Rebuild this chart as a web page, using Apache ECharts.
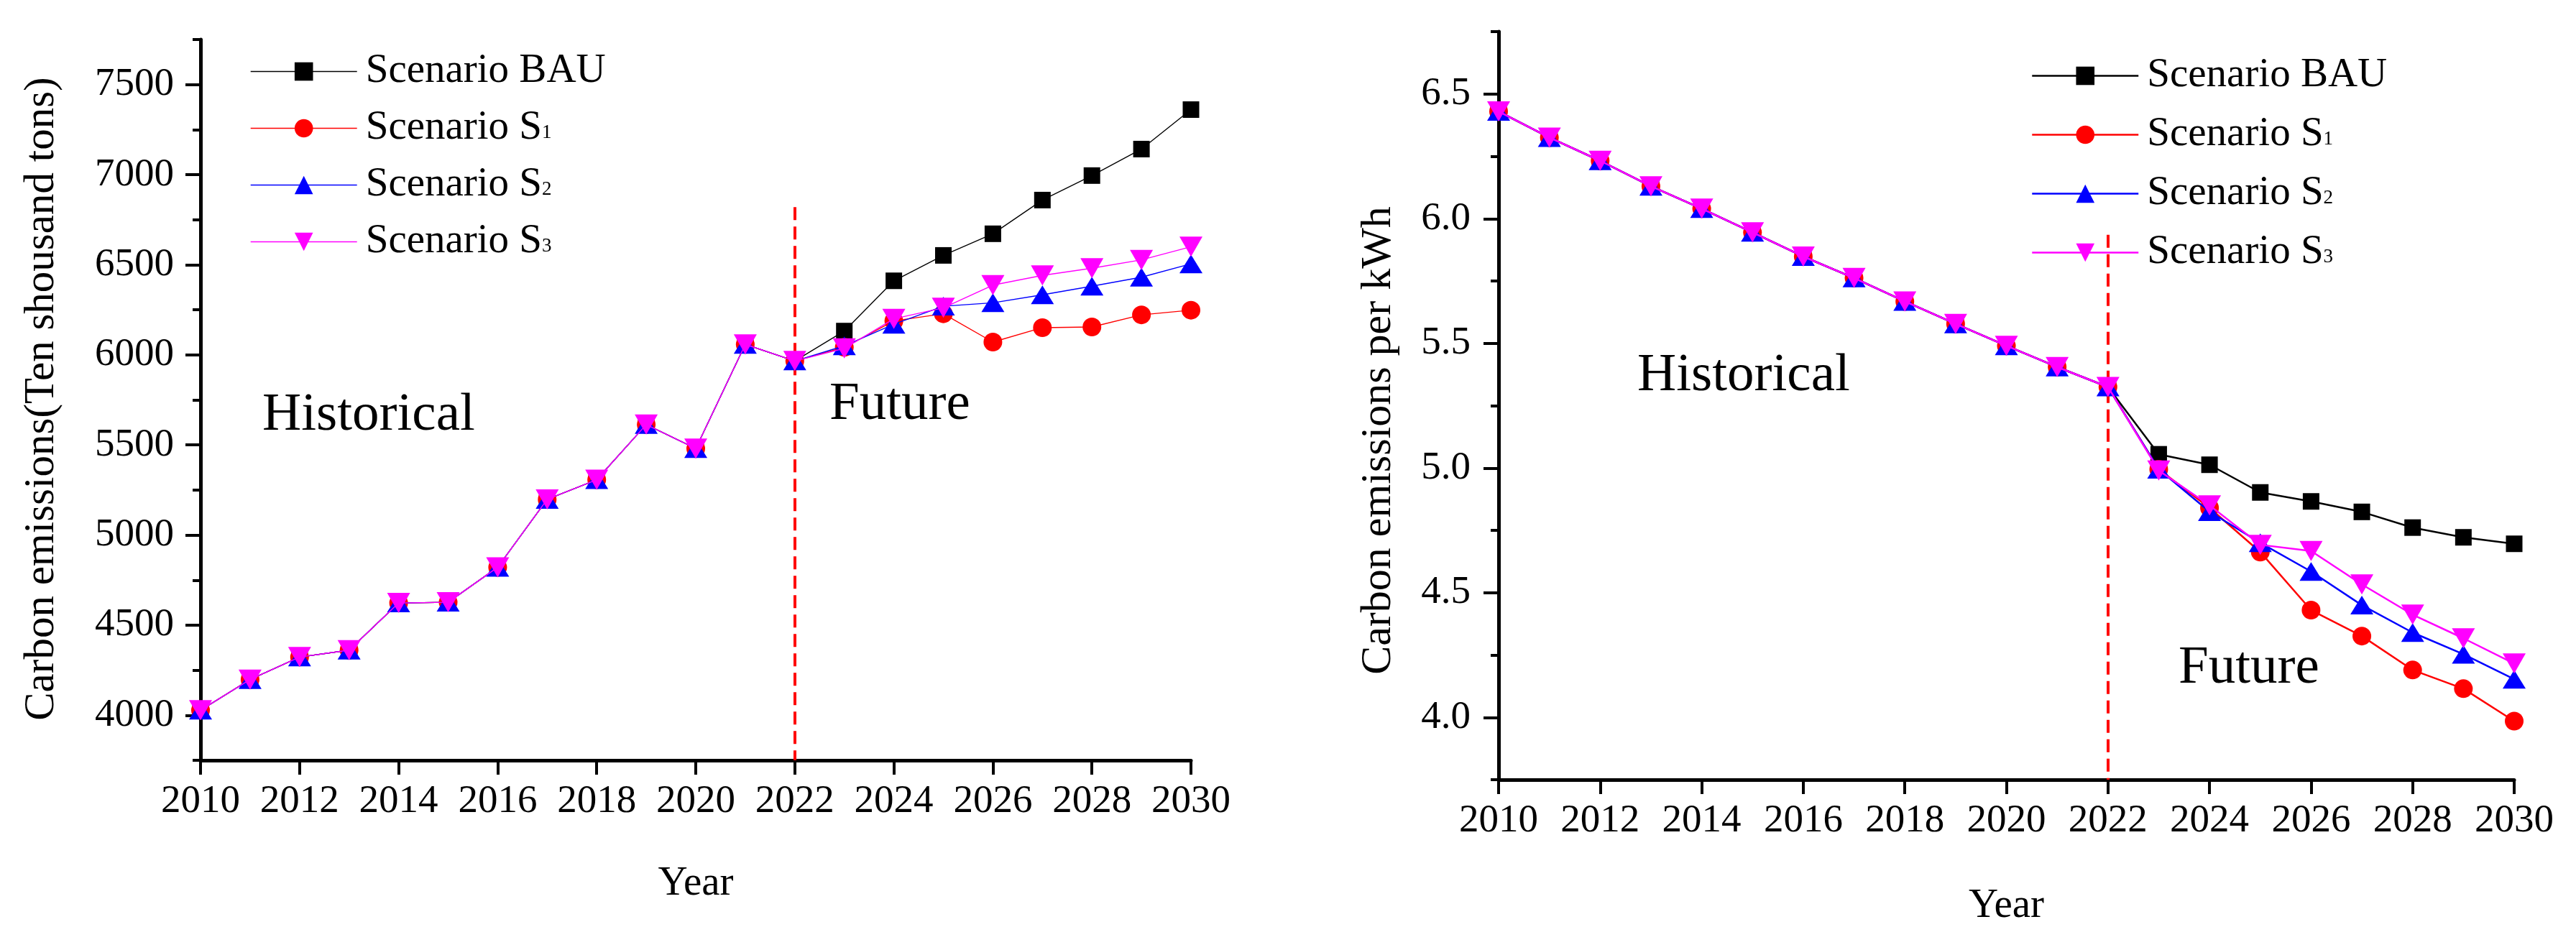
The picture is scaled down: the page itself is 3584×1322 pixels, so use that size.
<!DOCTYPE html>
<html>
<head>
<meta charset="utf-8">
<script src="https://cdn.jsdelivr.net/npm/echarts@6/dist/echarts.min.js"></script>
<style>
html,body{margin:0;padding:0;background:#ffffff;}
#wrap{position:relative;width:3584px;height:1322px;}
.c{position:absolute;top:0;width:1792px;height:1322px;}
</style>
</head>
<body>
<div id="wrap">
  <div id="left" class="c" style="left:0"></div>
  <div id="right" class="c" style="left:1792px"></div>
</div>
<script>
// ---------- data ----------
const years = [2010,2011,2012,2013,2014,2015,2016,2017,2018,2019,2020,2021,2022,2023,2024,2025,2026,2027,2028,2029,2030];
const seriesNames = ['Scenario BAU','Scenario S1','Scenario S2','Scenario S3'];
const xTickLabels = ['2010','2012','2014','2016','2018','2020','2022','2024','2026','2028','2030'];

// Left chart: Carbon emissions (ten thousand tons); 2010-2022 shared history
const emissionHistorical = [4028,4198,4323,4361,4623,4627,4821,5198,5307,5613,5480,6058,5966];
// 2023-2030
const emissionBAU = [6132,6411,6552,6672,6859,6995,7142,7361];
const emissionS1  = [6042,6188,6228,6071,6151,6155,6222,6248];
const emissionS2  = [6050,6170,6270,6289,6333,6381,6431,6505];
const emissionS3  = [6036,6200,6261,6387,6441,6481,6527,6600];
const emissionYTicks = [4000,4500,5000,5500,6000,6500,7000,7500];

// Right chart: Carbon emissions per kWh; 2010-2022 shared history
const intensityHistorical = [6.43,6.325,6.232,6.13,6.04,5.945,5.848,5.762,5.668,5.578,5.49,5.405,5.325];
// 2023-2030
const intensityBAU = [5.055,5.013,4.902,4.866,4.824,4.761,4.722,4.696];
const intensityS1  = [4.995,4.84,4.663,4.43,4.326,4.19,4.115,3.985];
const intensityS2  = [4.995,4.825,4.70,4.585,4.45,4.34,4.253,4.153];
const intensityS3  = [4.99,4.85,4.692,4.667,4.533,4.412,4.317,4.216];
const intensityYTicks = [4.0,4.5,5.0,5.5,6.0,6.5];

const splitYear = 2022;

// ---------- helpers ----------
const FONT = '"Liberation Serif","Times New Roman",serif';
const colors = ['#000000','#ff0000','#0000ff','#ff00ff'];
const symbols = ['rect','circle','triangle','triangle'];
const symbolSizes = [[23,23],[26,26],[32,26],[32,28]];
const symbolRotates = [0,0,0,180];

function pairs(hist, fut){
  const vals = hist.concat(fut);
  return years.map((y,i)=>[y, vals[i]]);
}

function buildOption(cfg){
  const futures = cfg.futures;
  const series = seriesNames.map((name,i)=>{
    const s = {
      name: name,
      type: 'line',
      xAxisIndex: 0,
      yAxisIndex: 0,
      data: pairs(cfg.hist, futures[i]),
      symbol: symbols[i],
      symbolSize: symbolSizes[i],
      symbolRotate: symbolRotates[i],
      showAllSymbol: true,
      lineStyle: {color: colors[i], width: cfg.lineWidth},
      itemStyle: {color: colors[i]},
      emphasis: {disabled: true},
      z: 3 + i
    };
    if (i === 0) {
      s.markLine = {
        silent: true,
        symbol: ['none','none'],
        label: {show:false},
        animation: false,
        lineStyle: {color:'#ff0000', type:[18,9], width:4},
        data: [[{coord:[splitYear, cfg.markTop]},{coord:[splitYear, cfg.yMin]}]]
      };
    }
    return s;
  });

  const majors = cfg.yTicks;
  const minors = [];
  for (let v = cfg.yMin; v <= cfg.yMax + 1e-9; v += cfg.yMinorStep) {
    const r = Math.round(v*1000)/1000;
    if (!majors.some(m=>Math.abs(m-r)<1e-6)) minors.push(r);
  }

  const axisBase = {
    type:'value', min:cfg.yMin, max:cfg.yMax, interval:cfg.yMinorStep,
    splitLine:{show:false}
  };

  return {
    animation:false,
    backgroundColor:'#ffffff',
    grid:{left:cfg.grid[0], top:cfg.grid[1], width:cfg.grid[2], height:cfg.grid[3], containLabel:false},
    xAxis:{
      type:'value', min:2010, max:2030, interval:2,
      name:'Year', nameLocation:'middle', nameGap:cfg.xNameGap,
      nameTextStyle:{fontFamily:FONT, fontSize:57, color:'#000'},
      axisLine:{show:true, onZero:false, lineStyle:{color:'#000', width:5}},
      axisTick:{show:true, length:20, lineStyle:{color:'#000', width:4}},
      axisLabel:{fontFamily:FONT, fontSize:55, color:'#000', margin:30,
        formatter:(v)=>{ const s=String(Math.round(v)); return xTickLabels.indexOf(s)>=0?s:''; }},
      splitLine:{show:false}
    },
    yAxis:[
      Object.assign({}, axisBase, {
        axisLine:{show:true, onZero:false, lineStyle:{color:'#000', width:5}},
        axisTick:{show:true, length:21, customValues:majors, lineStyle:{color:'#000', width:4}},
        axisLabel:{fontFamily:FONT, fontSize:55, color:'#000', margin:cfg.yLabelMargin,
          customValues:majors,
          formatter:(v)=> majors.some(m=>Math.abs(m-v)<1e-6) ? cfg.yFmt(v) : ''}
      }),
      Object.assign({}, axisBase, {
        position:'left',
        axisLine:{show:false},
        axisTick:{show:true, length:11, customValues:minors, lineStyle:{color:'#000', width:4}},
        axisLabel:{show:false}
      })
    ],
    legend:{
      orient:'vertical',
      left:cfg.legend[0], top:cfg.legend[1],
      itemWidth:148, itemHeight:32, itemGap:cfg.legend[2],
      selectedMode:false,
      lineStyle:{width:cfg.lineWidth},
      data:seriesNames,
      formatter:(name)=>name.replace(/S(\d)$/, 'S{sub|$1}'),
      textStyle:{fontFamily:FONT, fontSize:57, color:'#000', padding:[0,0,0,7],
        rich:{sub:{fontFamily:FONT, fontSize:27, color:'#000', verticalAlign:'bottom', padding:[0,0,9,0]}}}
    },
    graphic:[
      {type:'text', x:cfg.hist_lbl[0], y:cfg.hist_lbl[1],
        style:{text:'Historical', fill:'#000', font:'75px '+FONT, textAlign:'left', textVerticalAlign:'middle', align:'left', verticalAlign:'middle'}},
      {type:'text', x:cfg.fut_lbl[0], y:cfg.fut_lbl[1],
        style:{text:'Future', fill:'#000', font:'75px '+FONT, textAlign:'left', textVerticalAlign:'middle', align:'left', verticalAlign:'middle'}},
      {type:'text', x:cfg.yName[0], y:cfg.yName[1], rotation:Math.PI/2,
        style:{text:cfg.yNameText, fill:'#000', font:cfg.yNameSize+'px '+FONT, textAlign:'center', textVerticalAlign:'middle', align:'center', verticalAlign:'middle'}}
    ],
    series:series
  };
}

const leftChart = echarts.init(document.getElementById('left'), null, {renderer:'canvas'});
leftChart.setOption(buildOption({
  hist: emissionHistorical,
  futures: [emissionBAU, emissionS1, emissionS2, emissionS3],
  lineWidth: 1.4,
  yMin: 3750, yMax: 7750, yMinorStep: 250, yTicks: emissionYTicks,
  yFmt: (v)=>String(Math.round(v)),
  yLabelMargin: 37,
  markTop: 6820,
  grid: [279, 55, 1378, 1003],
  xNameGap: 144,
  legend: [343, 66, 22],
  hist_lbl: [365, 578],
  fut_lbl: [1154, 563],
  yName: [58, 555],
  yNameText: 'Carbon emissions(Ten shousand tons)',
  yNameSize: 59
}));

const rightChart = echarts.init(document.getElementById('right'), null, {renderer:'canvas'});
rightChart.setOption(buildOption({
  hist: intensityHistorical,
  futures: [intensityBAU, intensityS1, intensityS2, intensityS3],
  lineWidth: 2.5,
  yMin: 3.75, yMax: 6.75, yMinorStep: 0.25, yTicks: intensityYTicks,
  yFmt: (v)=>v.toFixed(1),
  yLabelMargin: 39,
  markTop: 5.935,
  grid: [293, 44, 1413, 1041],
  xNameGap: 148,
  legend: [1029, 72, 25],
  hist_lbl: [486, 523],
  fut_lbl: [1239, 930],
  yName: [126, 613],
  yNameText: 'Carbon emissions per kWh',
  yNameSize: 60
}));
</script>
</body>
</html>
